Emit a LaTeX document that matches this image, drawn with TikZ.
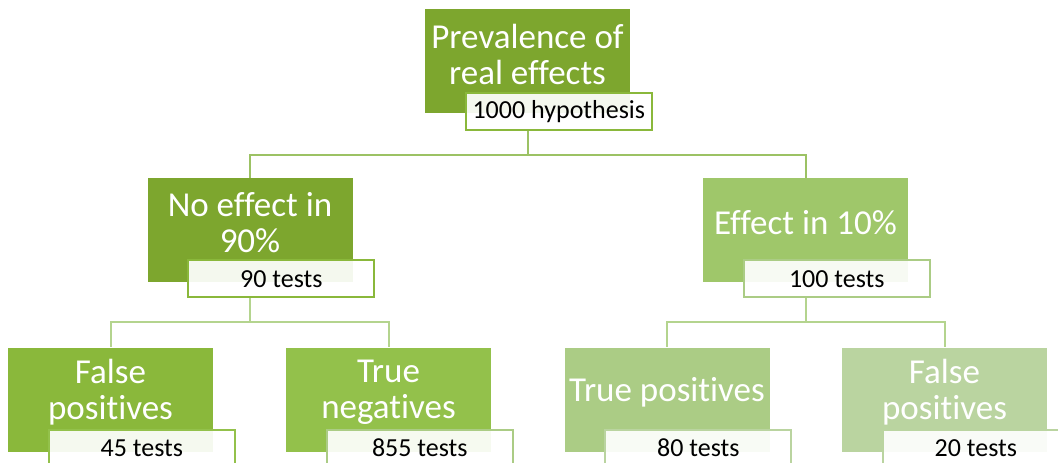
\documentclass[tikz,border=0pt]{standalone}
\usepackage{fontspec}
\setmainfont{Carlito}[Ligatures=CommonOff]
\usepackage{tikz}
\usetikzlibrary{positioning}
\definecolor{leafA}{HTML}{7DA62E}
\definecolor{leafB}{HTML}{9FC76A}
\definecolor{leafC}{HTML}{8AB83B}
\definecolor{leafD}{HTML}{93C14B}
\definecolor{leafE}{HTML}{ABCC85}
\definecolor{leafF}{HTML}{BAD4A0}
\definecolor{stemA}{HTML}{9CC264}
\definecolor{stemB}{HTML}{B4D48E}
\tikzstyle{greenbox} = [rectangle, minimum width=205pt, minimum height=104pt, inner sep=0pt]
\tikzstyle{bigtext} = [text=white, font=\fontsize{35}{36}\selectfont, align=center, inner sep=0pt]
\tikzstyle{countbox} = [draw=#1, line width=2pt, fill=white, fill opacity=0.92, text opacity=1, text=black, rectangle, minimum width=186pt, minimum height=37pt, inner sep=0pt, anchor=north west, font=\fontsize{26}{28}\selectfont]
\tikzstyle{link} = [line width=2pt]

\begin{document}
\begin{tikzpicture}[x=1pt, y=-1pt]
\clip (0,0) rectangle (1058,463);
% level 0
\node [greenbox, fill=leafA] (top) at (527.5,61) {};
\node [bigtext] (topt) at ([yshift=7pt]top.center) {Prevalence of\\real effects};
\node [countbox=leafC] (topn) at ([xshift=40pt,yshift=21pt]top.south west) {1000 hypothesis};
% level 1
\node [greenbox, fill=leafA] (noeff) at (250,230) {};
\node [bigtext] (noefft) at ([yshift=7pt]noeff.center) {No effect in\\90\%};
\node [countbox=leafC] (noeffn) at ([xshift=40pt,yshift=23pt]noeff.south west) {90 tests};
\node [greenbox, fill=leafB] (eff) at (805.5,230) {};
\node [bigtext] (efft) at ([yshift=7pt]eff.center) {Effect in 10\%};
\node [countbox=leafE] (effn) at ([xshift=40pt,yshift=23pt]eff.south west) {100 tests};
% level 2
\node [greenbox, fill=leafC] (fpa) at (110.5,399.5) {};
\node [bigtext] (fpat) at ([yshift=7pt]fpa.center) {False\\positives};
\node [countbox=leafD] (fpan) at ([xshift=40pt,yshift=23pt]fpa.south west) {45 tests};
\node [greenbox, fill=leafD] (tn) at (388.5,399.5) {};
\node [bigtext] (tnt) at ([yshift=7pt]tn.center) {True\\negatives};
\node [countbox=leafE] (tnn) at ([xshift=40pt,yshift=23pt]tn.south west) {855 tests};
\node [greenbox, fill=leafE] (tp) at (667,399.5) {};
\node [bigtext] (tpt) at ([yshift=7pt]tp.center) {True positives};
\node [countbox=leafF] (tpn) at ([xshift=40pt,yshift=23pt]tp.south west) {80 tests};
\node [greenbox, fill=leafF] (fpb) at (944.5,399.5) {};
\node [bigtext] (fpbt) at ([yshift=7pt]fpb.center) {False\\positives};
\node [countbox=leafF] (fpbn) at ([xshift=40pt,yshift=23pt]fpb.south west) {20 tests};
% connectors
\draw [link, stemA] (top.center |- topn.south) -- ++(0,24) -| (noeff.north);
\draw [link, stemA] (top.center |- topn.south) -- ++(0,24) -| (eff.north);
\draw [link, stemB] (noeff.center |- noeffn.south) -- ++(0,24) -| (fpa.north);
\draw [link, stemB] (noeff.center |- noeffn.south) -- ++(0,24) -| (tn.north);
\draw [link, stemB] (eff.center |- effn.south) -- ++(0,24) -| (tp.north);
\draw [link, stemB] (eff.center |- effn.south) -- ++(0,24) -| (fpb.north);
\end{tikzpicture}
\end{document}
